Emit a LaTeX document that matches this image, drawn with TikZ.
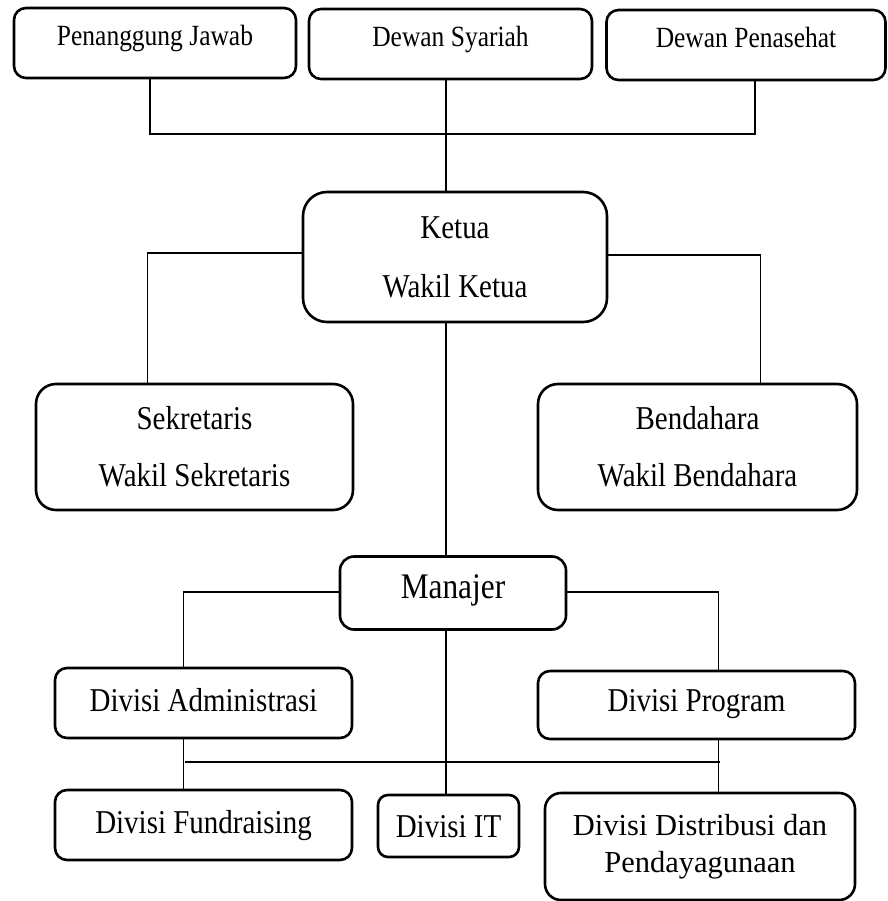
\documentclass[tikz,border=0pt]{standalone}
\usepackage{fontspec}
\setmainfont{Liberation Serif}
\newfontfamily\narrowserif{Liberation Serif}[FakeStretch=0.87]
\usetikzlibrary{calc}
\begin{document}
\begin{tikzpicture}[x=1pt,y=-1pt,
  unit/.style={draw,line width=2.6pt,rounded corners=12pt,inner sep=0pt},
  oneline/.style={unit,text height=26pt,text depth=8.7pt},
  twoline/.style={unit,align=center},
  toptext/.style={font=\narrowserif\fontsize{29.3}{30}\selectfont,text height=19pt,text depth=13.5pt},
  midtext/.style={font=\narrowserif\fontsize{33.3}{35}\selectfont},
  link/.style={line width=1.3pt}]
  \useasboundingbox (0,0) rectangle (887,901);
  % top row
  \node[oneline,toptext,minimum width=282,minimum height=70] (pj) at (155,43) {Penanggung Jawab};
  \node[oneline,toptext,minimum width=283,minimum height=70] (ds) at (450.5,44) {Dewan Syariah};
  \node[oneline,toptext,minimum width=279,minimum height=70] (dp) at (746,45) {Dewan Penasehat};
  % pimpinan
  \node[twoline,midtext,rounded corners=24pt,minimum width=304,minimum height=130] (ketua) at (455,257) {Ketua\\[24pt]Wakil Ketua};
  \node[twoline,midtext,rounded corners=20pt,minimum width=317,minimum height=126] (sek) at (194.5,447) {Sekretaris\\[22pt]Wakil Sekretaris};
  \node[twoline,midtext,rounded corners=20pt,minimum width=319,minimum height=126] (bend) at (697.5,447) {Bendahara\\[22pt]Wakil Bendahara};
  \node[oneline,rounded corners=14pt,minimum width=226,minimum height=73,font=\narrowserif\fontsize{36}{40}\selectfont,text height=24pt,text depth=12.6pt] (man) at (453,593) {Manajer};
  % divisi
  \node[oneline,midtext,minimum width=297,minimum height=70] (adm) at (203.5,703) {Divisi Administrasi};
  \node[oneline,midtext,minimum width=317,minimum height=68,text height=22pt] (prog) at (696.5,705) {Divisi Program};
  \node[oneline,midtext,minimum width=297,minimum height=70] (fund) at (203.5,825) {Divisi Fundraising};
  \node[oneline,midtext,rounded corners=10pt,minimum width=141,minimum height=62,text height=32pt] (it) at (448.5,826) {Divisi IT};
  \node[twoline,rounded corners=16pt,minimum width=310,minimum height=107,font=\fontsize{30.5}{35}\selectfont] (dist) at (700,846.5) {Divisi Distribusi dan\\[2pt]Pendayagunaan};
  % connectors
  \coordinate (spine) at (446,0);
  \coordinate (topbus) at (446,134);
  \coordinate (busL) at (185,762);
  \coordinate (busR) at (720,762);
  \draw[link] ([xshift=-5pt]pj.south) |- (topbus) -| ([xshift=9pt]dp.south);
  \draw[link] (ds.south -| spine) -- (ketua.north -| spine);
  \draw[link] ([yshift=4pt]ketua.west) -| ([xshift=113pt]sek.north west);
  \draw[link] ([yshift=2pt]ketua.east) -| ([xshift=224pt]bend.north west);
  \draw[link] (ketua.south -| spine) -- (man.north -| spine);
  \draw[link] ([yshift=1pt]man.west) -| ([xshift=130pt]adm.north west);
  \draw[link] ([yshift=1pt]man.east) -| ([xshift=182pt]prog.north west);
  \draw[link] (man.south -| spine) -- (it.north -| spine);
  \draw[link] ([xshift=130pt]adm.south west) -- ([xshift=130pt]fund.north west);
  \draw[link] ([xshift=182pt]prog.south west) -- ([xshift=175pt]dist.north west);
  \draw[link] (busL) -- (busR);
\end{tikzpicture}
\end{document}
